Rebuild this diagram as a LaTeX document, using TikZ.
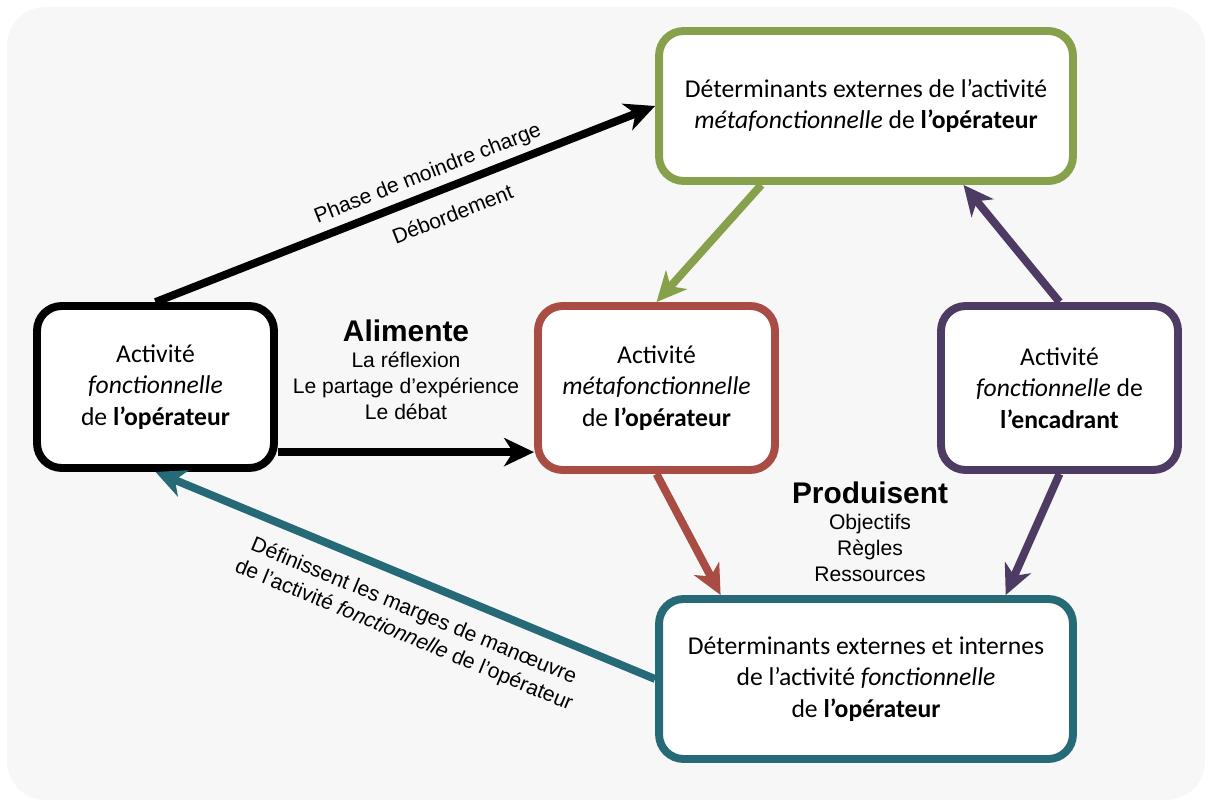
\documentclass[tikz,border=0pt]{standalone}
\usepackage{fontspec}
\setmainfont{Carlito}
\newfontfamily\arial{Liberation Sans}
\usetikzlibrary{arrows.meta}
\usetikzlibrary{shapes}
\usetikzlibrary{backgrounds,positioning}
\definecolor{fondgris}{RGB}{247,247,247}
\definecolor{vert}{RGB}{134,160,76}
\definecolor{rouge}{RGB}{168,76,68}
\definecolor{violet}{RGB}{78,59,99}
\definecolor{bleu}{RGB}{38,106,120}

\begin{document}
\begin{tikzpicture}[x=0.02cm,y=-0.02cm]
                \tikzstyle{boite}=[draw, line width=4.5pt, fill=white, rounded corners=14pt, align=center, font=\fontsize{14.6}{18}\selectfont]
                \tikzstyle{fleche}=[line width=4.5pt, -{Stealth[length=17pt,width=16pt,inset=5pt]}]
                \tikzstyle{etiq}=[font=\arial\fontsize{12}{14.8}\selectfont, align=center, text=black]

                \useasboundingbox (0,0) rectangle (1210,803);
                \fill[fondgris, rounded corners=22pt] (7,7) rectangle (1205,800);

                \node[boite, minimum width=4.74cm, minimum height=3.24cm] (fonc) at (155.5,387) {Activité\\\textit{fonctionnelle}\\de \textbf{l'opérateur}};
                \node[boite, draw=rouge, minimum width=4.74cm, minimum height=3.28cm] (meta) at (656.5,388) {Activité\\\textit{métafonctionnelle}\\de \textbf{l'opérateur}};
                \node[boite, draw=violet, minimum width=4.74cm, minimum height=3.28cm] (enc) at (1059.5,388) {Activité\\\textit{fonctionnelle} de\\\textbf{l'encadrant}};
                \node[boite, draw=vert, minimum width=8.28cm, minimum height=3.0cm] (detmeta) at (866,106) {Déterminants externes de l'activité\\\textit{métafonctionnelle} de \textbf{l'opérateur}};
                \node[boite, draw=bleu, minimum width=8.28cm, minimum height=3.2cm] (detfonc) at (866,679) {Déterminants externes et internes\\de l'activité \textit{fonctionnelle}\\de \textbf{l'opérateur}};

                \draw[fleche] (fonc.north) -- node[etiq, sloped, above, pos=0.56] {Phase de moindre charge} node[etiq, sloped, below=5pt, pos=0.575] {Débordement} (detmeta.west);
                \draw[fleche] (fonc.-28) -- (fonc.-28 -| meta.west);
                \draw[fleche, vert] (detmeta.217) -- (meta.north);
                \draw[fleche, violet] (enc.north) -- (detmeta.-39);
                \draw[fleche, rouge] (meta.south) -- (detfonc.150);
                \draw[fleche, violet] (enc.south) -- (detfonc.31);
                \draw[fleche, bleu] (detfonc.west) -- node[etiq, sloped, below=6pt, pos=0.46] {Définissent les marges de manœuvre\\de l’activité \textit{fonctionnelle} de l’opérateur} (fonc.south);

                \node[etiq] (alim) at (406,370) {{\bfseries\fontsize{17}{20}\selectfont Alimente}\\La réflexion\\Le partage d’expérience\\Le débat};
                \node[etiq] (prod) at (870,532) {{\bfseries\fontsize{17}{20}\selectfont Produisent}\\Objectifs\\Règles\\Ressources};
            \end{tikzpicture}
\end{document}
